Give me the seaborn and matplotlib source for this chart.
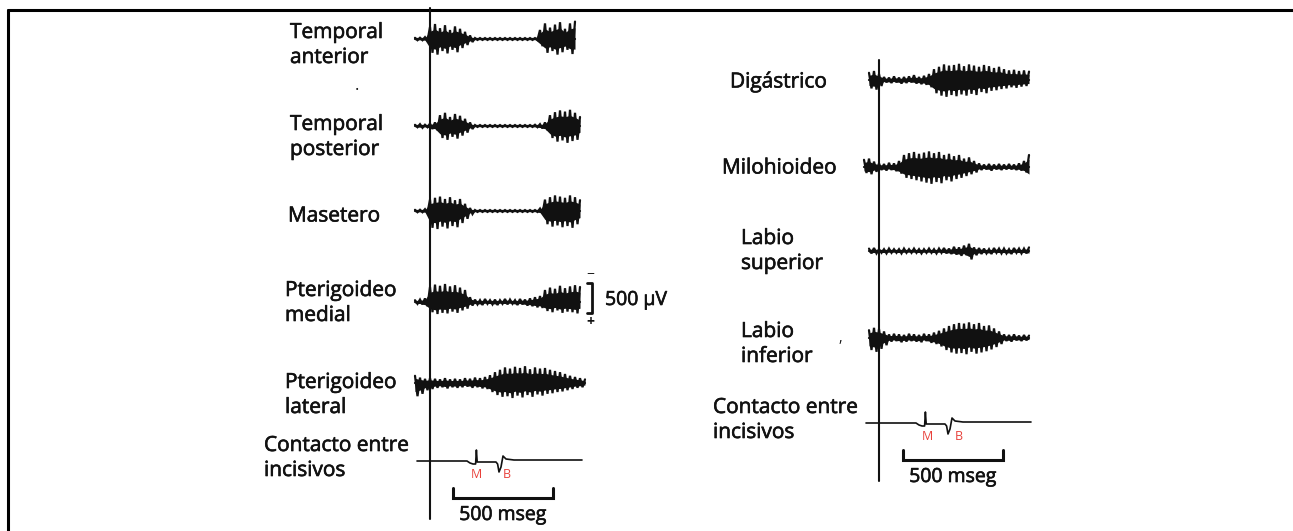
import numpy as np
import pandas as pd
import seaborn as sns
import matplotlib.pyplot as plt
import matplotlib.patheffects as pe

# --- DATEN (Zeit in ms relativ zum Kontakt, Amplituden in µV) ---
nan = np.nan
T_MS = [-75, -50, -25, 0, 25, 50, 75, 100, 125, 150, 175, 200, 225, 250, 275, 300, 325, 350,
        375, 400, 425, 450, 475, 500, 525, 550, 575, 600, 625, 650, 675, 700, 725, 750, 775]

# linke Seite: Schliessmuskeln
TEMP_ANT_UP = [20, 20, 30, 200, 250, 180, 230, 150, 210, 170, 120, 60,
               15, 15, 15, 15, 15, 15, 15, 15, 15, 15, 15, 15, 15,
               150, 260, 190, 240, 280, 170, 260, 290, nan, nan]
TEMP_ANT_DN = [20, 20, 30, 230, 260, 200, 240, 180, 220, 150, 100, 50,
               15, 15, 15, 15, 15, 15, 15, 15, 15, 15, 15, 15, 15,
               120, 230, 200, 260, 220, 180, 250, 260, nan, nan]

TEMP_POST_UP = [20, 30, 20, 40, 60, 180, 220, 150, 200, 170, 120, 60,
                15, 15, 15, 15, 15, 15, 15, 15, 15, 15, 15, 15, 20, 30, 60,
                180, 230, 260, 240, 270, 220, 150, nan]
TEMP_POST_DN = [20, 30, 20, 50, 70, 200, 230, 180, 210, 160, 110, 50,
                15, 15, 15, 15, 15, 15, 15, 15, 15, 15, 15, 15, 20, 40, 70,
                200, 260, 240, 280, 250, 230, 160, nan]

MASETERO_UP = [20, 20, 30, 190, 220, 240, 200, 230, 180, 200, 120, 50,
               15, 15, 15, 15, 15, 15, 15, 15, 15, 15, 15, 15, 15, 40,
               190, 230, 260, 240, 220, 260, 230, 180, nan]
MASETERO_DN = [20, 20, 30, 280, 300, 260, 290, 250, 270, 200, 130, 50,
               15, 15, 15, 15, 15, 15, 15, 15, 15, 15, 15, 15, 15, 40,
               220, 260, 240, 270, 250, 280, 220, 170, nan]

PTER_MED_UP = [30, 40, 60, 250, 290, 270, 300, 260, 280, 240, 200, 80,
               40, 30, 50, 30, 40, 30, 50, 40, 30, 50, 40, 60, 80, 100,
               200, 240, 220, 270, 230, 260, 280, 250, nan]
PTER_MED_DN = [30, 40, 70, 170, 200, 180, 190, 160, 180, 140, 110, 60,
               40, 50, 30, 40, 50, 30, 40, 30, 50, 40, 60, 70, 90, 100,
               150, 170, 140, 180, 160, 170, 190, 160, nan]

PTER_LAT_UP = [120, 90, 70, 80, 70, 60, 80, 60, 70, 60, 80, 70, 90, 80, 100, 130,
               180, 220, 260, 240, 270, 250, 280, 230, 260, 240, 250, 220, 200, 180,
               150, 120, 100, 80, 60]
PTER_LAT_DN = [220, 180, 120, 100, 80, 70, 90, 70, 80, 70, 60, 80, 70, 90, 100, 150,
               200, 230, 220, 250, 210, 240, 200, 230, 190, 210, 180, 170, 150, 140,
               120, 100, 80, 70, 50]

# rechte Seite: Öffnungsmuskeln und Lippen
DIGASTRICO_UP = [nan, 120, 150, 100, 50, 40, 60, 40, 50, 60, 80, 50, 70, 100,
                 180, 220, 260, 240, 250, 270, 230, 260, 240, 220, 250, 230, 200, 220,
                 180, 160, 170, 150, 160, 140, nan]
DIGASTRICO_DN = [nan, 140, 160, 100, 40, 50, 40, 60, 50, 40, 60, 70, 80, 120,
                 220, 260, 280, 250, 270, 240, 260, 230, 250, 200, 220, 180, 170, 150,
                 140, 120, 130, 110, 100, 90, nan]

MILOHIOIDEO_UP = [120, 140, 90, 60, 50, 70, 60, 100,
                  200, 230, 250, 220, 240, 260, 230, 250, 200, 220, 180, 200, 140, 160, 100,
                  60, 40, 50, 40, 50, 40, 50, 40, 60, 100, 200, nan]
MILOHIOIDEO_DN = [100, 120, 80, 50, 60, 50, 70, 110,
                  180, 200, 220, 240, 260, 280, 250, 270, 220, 240, 200, 180, 150, 120, 90,
                  50, 40, 60, 40, 50, 40, 40, 50, 60, 90, 180, nan]

LABIO_SUP_UP = [nan, 40, 50, 30, 30, 40, 30, 30, 40, 30, 40, 30, 30, 40, 30, 40, 50, 40,
                70, 60, 90, 120, 60, 50, 40, 30, 50, 40, 40, 30, 50, 40, 40, 60, nan]
LABIO_SUP_DN = [nan, 40, 40, 30, 40, 30, 30, 40, 30, 30, 30, 40, 30, 30, 40, 30, 40, 50,
                60, 80, 70, 140, 70, 50, 40, 50, 30, 40, 40, 50, 30, 40, 40, 50, nan]

LABIO_INF_UP = [nan, 130, 170, 150, 110, 60, 70, 60, 50, 70, 60, 50, 70, 60, 90, 120,
                160, 200, 230, 250, 240, 260, 230, 250, 200, 210, 160, 110,
                60, 50, 60, 40, 50, 40, nan]
LABIO_INF_DN = [nan, 200, 230, 180, 120, 60, 50, 70, 60, 50, 60, 70, 50, 80, 100, 140,
                200, 240, 260, 250, 270, 230, 260, 240, 220, 190, 150, 100,
                50, 60, 40, 50, 40, 40, nan]

# Kontaktsignal zwischen den Schneidezähnen (willkürliche Einheiten)
CONTACT_T = [-65, 185, 200, 215, 228, 232, 236, 245, 300, 330, 338, 345, 355, 365, 380, 420, 760]
CONTACT_V = [0, 0, -2, -3, -3, 11, -1, -1, -1, -1, -3, -11, -6, 5, 2, 1, 1]

SCALE_MS = 500
SCALE_UV = 500

# --- LAYOUT (Pixel) ---
W, H = 1293, 531
PX_PER_MS = 0.2
PX_PER_UV = 0.06
CORE = 0.65   # Anteil der Hüllkurve, der als dichter Kern gefüllt wird

LEFT_X0, RIGHT_X0 = 430, 879
LEFT_ROWS = [
    ("Temporal\nanterior", TEMP_ANT_UP, TEMP_ANT_DN, 39, 290, 45),
    ("Temporal\nposterior", TEMP_POST_UP, TEMP_POST_DN, 126, 290, 137),
    ("Masetero", MASETERO_UP, MASETERO_DN, 211, 288, 216),
    ("Pterigoideo\nmedial", PTER_MED_UP, PTER_MED_DN, 302, 285, 303),
    ("Pterigoideo\nlateral", PTER_LAT_UP, PTER_LAT_DN, 383, 285, 395),
]
RIGHT_ROWS = [
    ("Digástrico", DIGASTRICO_UP, DIGASTRICO_DN, 80, 730, 82),
    ("Milohioideo", MILOHIOIDEO_UP, MILOHIOIDEO_DN, 167, 722, 168),
    ("Labio\nsuperior", LABIO_SUP_UP, LABIO_SUP_DN, 251, 741, 251),
    ("Labio\ninferior", LABIO_INF_UP, LABIO_INF_DN, 338, 741, 344),
]

INK = "#111111"
RED = "#e8403a"
FS = 15
LSP = 1.25
BOLDISH = [pe.withStroke(linewidth=0.45, foreground=INK)]

sns.set_theme(style="white")
plt.rcParams['font.family'] = ['Open Sans', 'DejaVu Sans']


def label(ax, x, y, s, **kw):
    kw.setdefault('fontsize', FS)
    kw.setdefault('ha', 'left')
    ax.text(x, y, s, va='center', linespacing=LSP, color=INK, path_effects=BOLDISH, **kw)


def draw_emg(ax, x0, base, up, dn):
    df = pd.DataFrame({'t': T_MS, 'up': up, 'dn': dn})
    df['x'] = x0 + df['t'] * PX_PER_MS
    half = 25 * PX_PER_MS / 2
    # dichter Kern
    ax.fill_between(df['x'], base - df['up'] * PX_PER_UV * CORE, base + df['dn'] * PX_PER_UV * CORE,
                    color=INK, lw=0)
    # Kritzel-Linie: abwechselnd obere und untere Hüllkurve
    top = pd.DataFrame({'x': df['x'], 'y': base - df['up'] * PX_PER_UV, 'k': 0})
    bot = pd.DataFrame({'x': df['x'] + half, 'y': base + df['dn'] * PX_PER_UV, 'k': 1})
    zig = pd.concat([top, bot]).sort_values(['x', 'k'])
    zig = zig[(zig['x'] <= df.dropna()['x'].max() + 0.1)]
    ax.plot(zig['x'], zig['y'], color=INK, lw=1.6, solid_joinstyle='miter')
    valid = df.dropna()
    line = pd.DataFrame({'x': [valid['x'].min(), valid['x'].max()], 'y': [base, base]})
    sns.lineplot(data=line, x='x', y='y', ax=ax, color=INK, lw=1.6)


def draw_contact(ax, x0, base, mx, bx, label_y):
    df = pd.DataFrame({'t': CONTACT_T, 'v': CONTACT_V})
    df['x'] = x0 + df['t'] * PX_PER_MS
    df['y'] = base - df['v']
    sns.lineplot(data=df, x='x', y='y', ax=ax, color=INK, lw=1.2, sort=False)
    ax.text(mx, label_y, "M", color=RED, fontsize=9, ha='center', va='center')
    ax.text(bx, label_y, "B", color=RED, fontsize=9, ha='center', va='center')


def draw_time_bar(ax, x0, y, t_start):
    xa = x0 + t_start * PX_PER_MS
    xb = x0 + (t_start + SCALE_MS) * PX_PER_MS
    ax.plot([xa, xa, xb, xb], [y - 10, y, y, y - 10], color=INK, lw=2.2, solid_joinstyle='miter')
    label(ax, (xa + xb) / 2, y + 17, f"{SCALE_MS} mseg", fontsize=FS - 1, ha='center')


fig = plt.figure(figsize=(W / 100, H / 100), dpi=100)
ax = fig.add_axes([0, 0, 1, 1])
ax.set_xlim(0, W)
ax.set_ylim(H, 0)
ax.axis('off')

# Rahmen (oben und links)
ax.plot([8, W], [9.5, 9.5], color='black', lw=2.2)
ax.plot([8, 8], [9.5, H], color='black', lw=2.2)

# Vertikale Referenzlinien
ax.plot([LEFT_X0, LEFT_X0], [8, 519], color=INK, lw=1.5)
ax.plot([RIGHT_X0, RIGHT_X0], [60, 481], color=INK, lw=1.5)

for name, up, dn, base, lx, ly in LEFT_ROWS:
    draw_emg(ax, LEFT_X0, base, up, dn)
    label(ax, lx, ly, name)

for name, up, dn, base, lx, ly in RIGHT_ROWS:
    draw_emg(ax, RIGHT_X0, base, up, dn)
    label(ax, lx, ly, name)

# Kontaktsignale
draw_contact(ax, LEFT_X0, 461, 476, 507, 474)
label(ax, 264, 458, "Contacto entre\nincisivos")
draw_contact(ax, RIGHT_X0, 423, 927, 959, 436)
label(ax, 713, 420, "Contacto entre\nincisivos")

# Zeitskalen
draw_time_bar(ax, LEFT_X0, 498, 115)
draw_time_bar(ax, RIGHT_X0, 460, 120)

# Amplitudenskala 500 µV
bx = 592
half_bar = SCALE_UV * PX_PER_UV / 2
yc = 298
ax.plot([bx - 5, bx, bx, bx - 5], [yc - half_bar, yc - half_bar, yc + half_bar, yc + half_bar], color=INK, lw=2)
ax.text(bx - 2, yc - half_bar - 9, "−", fontsize=10, ha='center', va='center', color=INK)
ax.text(bx - 2, yc + half_bar + 9, "+", fontsize=10, ha='center', va='center', color=INK, fontweight='bold')
label(ax, 605, yc + 2, f"{SCALE_UV} µV", fontsize=FS - 1)

# Staubpunkte aus dem Scan
ax.text(357, 86, ".", fontsize=12, ha='center', va='center', color=INK)
ax.text(840, 338, ",", fontsize=10, ha='center', va='center', color=INK)

fig.savefig("out.png", dpi=100)
